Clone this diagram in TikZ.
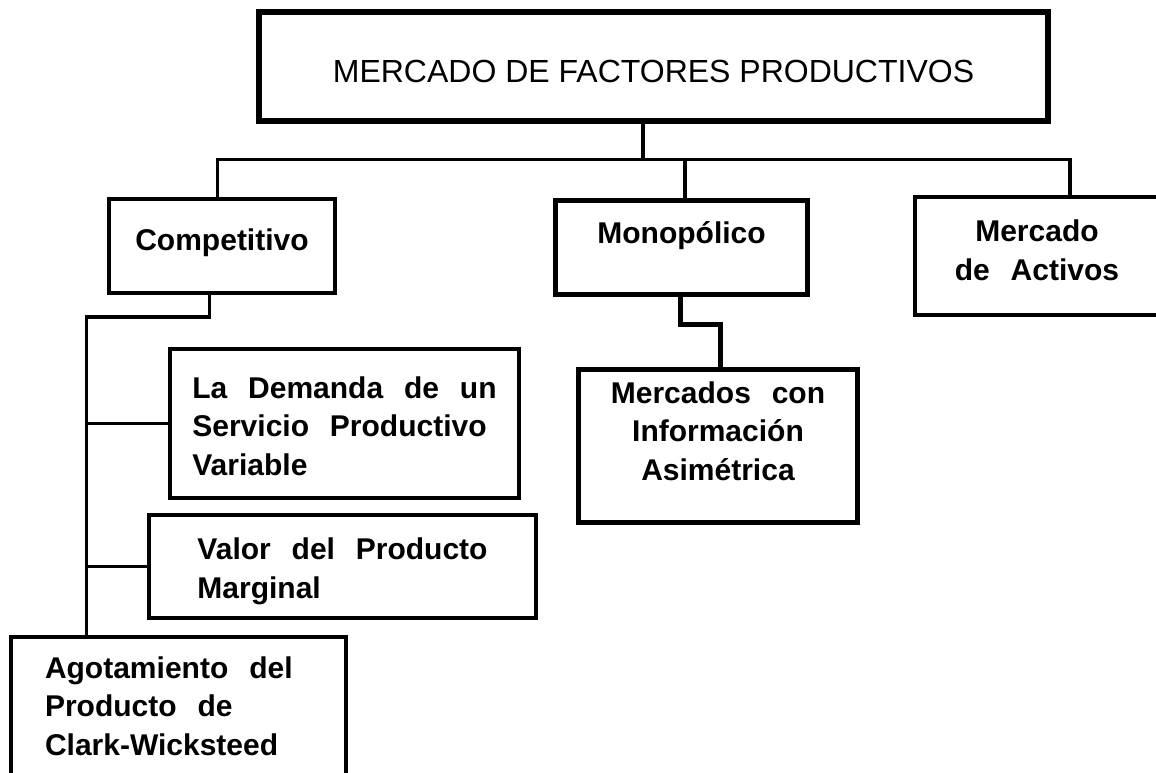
\documentclass[tikz,border=0pt]{standalone}
\usepackage{fontspec}
\setmainfont{Liberation Sans}
\newfontfamily\boxfont{Liberation Sans}[WordSpace=2.5]
\usepackage{tikz}

\begin{document}
\begin{tikzpicture}[x=1pt,y=-1pt,
    box/.style={draw,rectangle,anchor=north west,outer sep=0pt,inner sep=0pt,
      line width=4pt,minimum height=0pt,align=center,
      font=\boxfont\bfseries\fontsize{30}{38.5}\selectfont},
    wire/.style={draw,line width=3.5pt}]
    \useasboundingbox[fill=white] (0,0) rectangle (1156,773);
    \clip (0,0) rectangle (1156,773);
    \node[box,line width=6pt,minimum width=789pt,text height=70.7pt,text depth=38.3pt,
      font=\fontsize{32}{38}\selectfont] (mercado) at (259,12) {MERCADO DE FACTORES PRODUCTIVOS};
    \node[box,minimum width=226pt,text height=51pt,text depth=43pt]   (comp)    at (109,199)   {Competitivo};
    \node[box,line width=5pt,minimum width=252pt,text height=42.5pt,text depth=51.5pt]
      (mono) at (555.5,200.5) {Monopólico};
    \node[box,minimum width=244pt,text height=83pt,text depth=35pt]   (activos) at (915,197)   {Mercado\\de Activos};
    \node[box,align=left,minimum width=349pt,text height=126.3pt,text depth=23pt]
      (demanda) at (170,348.7) {La Demanda de un\\Servicio Productivo\\Variable};
    \node[box,align=left,minimum width=387pt,text height=83pt,text depth=20pt]
      (valor) at (149,515) {Valor del Producto\\Marginal};
    \node[box,align=left,text width=267pt,inner xsep=34pt,text height=41pt,text depth=122pt]
      (agot) at (11,637) {\spaceskip=0.7em\relax Agotamiento del\\Producto de\\Clark-Wicksteed};
    \node[box,line width=5pt,minimum width=279pt,text height=110.5pt,text depth=42.5pt]
      (asim) at (578.5,369.5) {Mercados con\\Información\\Asimétrica};
    % top tree
    \draw[wire] ([xshift=-10.5pt]mercado.south) -- ++(0,38.5) coordinate (bar);
    \draw[wire] ([xshift=-4.5pt]comp.north) |- (bar) -| ([xshift=33pt]activos.north);
    \draw[wire] ([xshift=3.5pt]mono.north) -- ([xshift=3.5pt]mono.north |- bar);
    % competitivo branch
    \draw[wire] ([xshift=-12.5pt]comp.south) -- ++(0,24) -| ([xshift=-92pt]agot.north)
      coordinate[pos=0.5] (trunk);
    \draw[wire] (demanda.west) -- (demanda.west -| trunk);
    \draw[wire] (valor.west) -- (valor.west -| trunk);
    % monopolico branch
    \draw[wire,line width=5.5pt] ([xshift=-1pt]mono.south) -- ++(0,30) -| ([xshift=2.5pt]asim.north);
\end{tikzpicture}
\end{document}
